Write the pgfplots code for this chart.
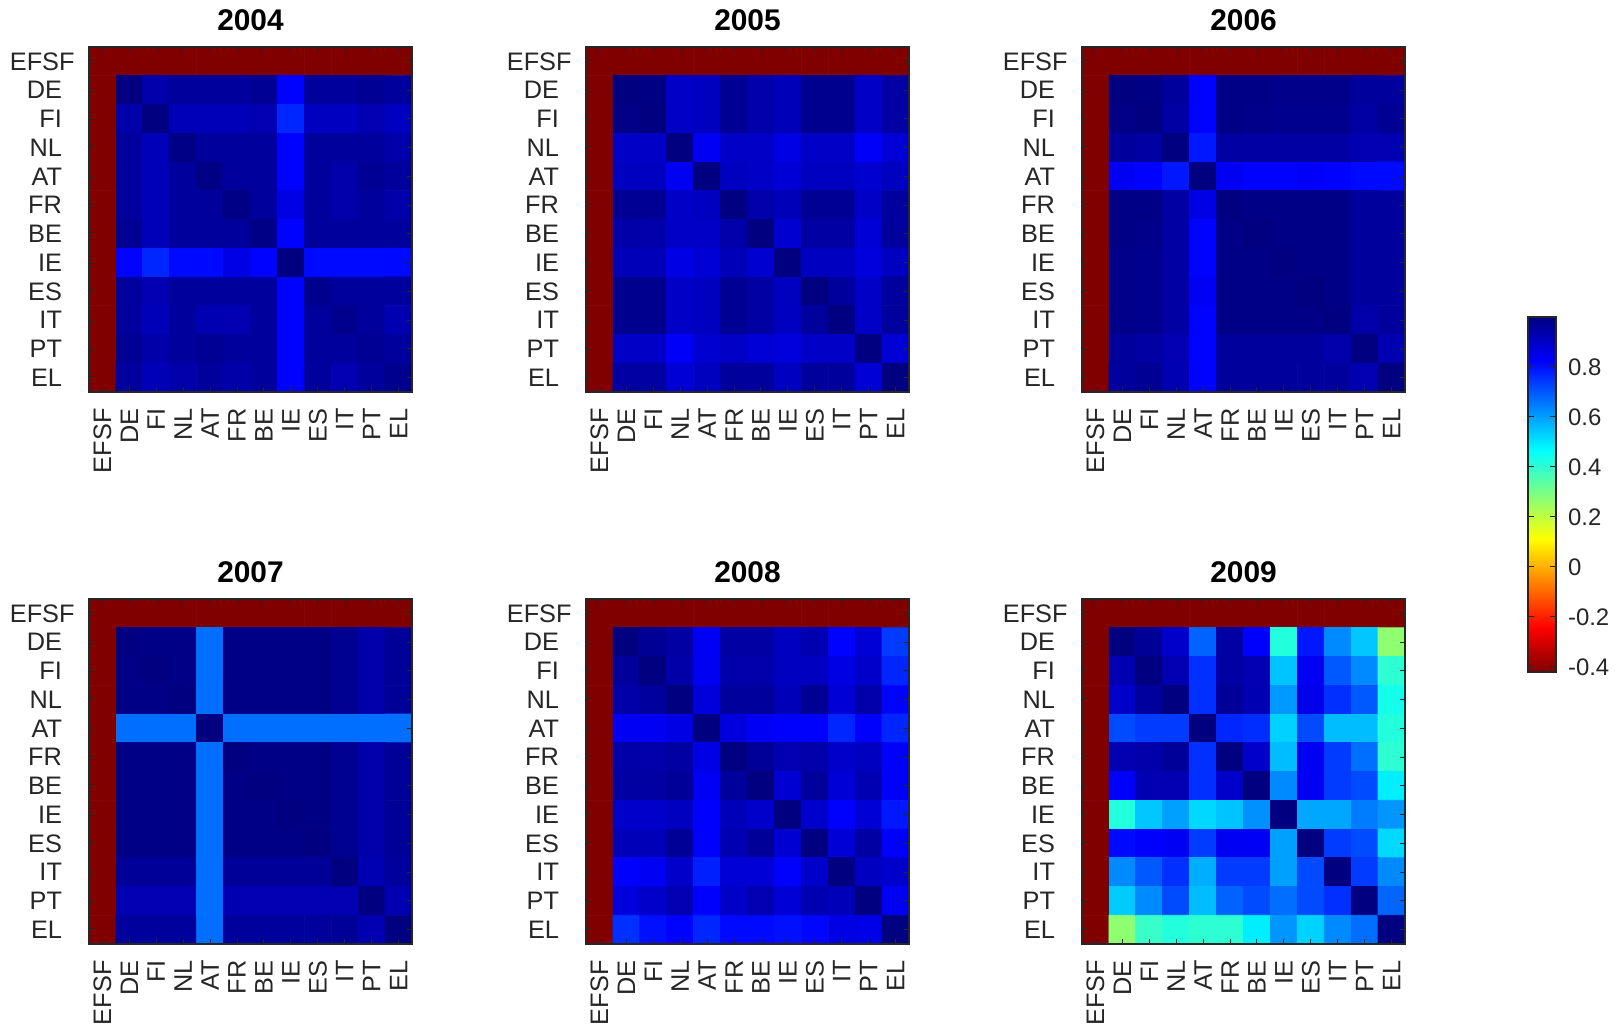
\documentclass[border=0pt]{standalone}
\usepackage{pgfplots}
\usepackage{pgfplotstable}
\pgfplotsset{compat=1.18}
\usepackage{fontspec}
\setmainfont{Liberation Sans}
\definecolor{axgray}{rgb}{0.15,0.15,0.15}
\pgfplotsset{colormap={rjet}{rgb(0cm)=(0.5,0,0) rgb(1cm)=(1,0,0) rgb(3cm)=(1,1,0) rgb(5cm)=(0,1,1) rgb(7cm)=(0,0,1) rgb(8cm)=(0,0,0.5)}}
\newcommand{\pd}{\hspace*{6.3bp}}
\pgfplotsset{heat/.style={
  anchor=south west, scale only axis, width=161.5bp, height=172.5bp,
  xmin=-0.5, xmax=11.5, ymin=-0.5, ymax=11.5, y dir=reverse, enlargelimits=false,
  xtick={0,...,11}, ytick={0,...,11},
  xticklabels={EFSF,DE,FI,NL,AT,FR,BE,IE,ES,IT,PT,EL},
  yticklabels={EFSF,DE\pd,FI\pd,NL\pd,AT\pd,FR\pd,BE\pd,IE\pd,ES\pd,IT\pd,PT\pd,EL\pd},
  tick align=inside, major tick length=2.5bp, tick style={axgray, line width=0.5bp},
  axis line style={axgray, line width=0.6bp},
  axis on top,
  tick label style={font=\fontsize{12.7}{15}\selectfont, text=axgray},
  yticklabel style={xshift=-3.7bp},
  xticklabel style={rotate=90, anchor=east, inner xsep=8bp},
  title style={font=\fontsize{15}{18}\selectfont\bfseries, at={(0.5,1)}, anchor=south, yshift=-1.3bp},
  colormap name=rjet, point meta min=-0.42, point meta max=1,
}}
\newcommand{\panel}[4]{%
\begin{axis}[heat, at={(#1,#2)}, title={#3}]
\addplot[matrix plot*, mesh/cols=12, point meta=explicit]
  table[x index=0, y index=0, x expr={\coordindex-12*floor((\coordindex+0.5)/12)}, y expr={floor((\coordindex+0.5)/12)}, meta index=0] {#4};
\end{axis}}

\pgfplotstableread[row sep=\\]{
v\\
-0.42\\ -0.42\\ -0.42\\ -0.42\\ -0.42\\ -0.42\\ -0.42\\ -0.42\\ -0.42\\ -0.42\\ -0.42\\ -0.42\\
-0.42\\ 1.00\\ 0.94\\ 0.96\\ 0.96\\ 0.96\\ 0.97\\ 0.82\\ 0.96\\ 0.96\\ 0.97\\ 0.96\\
-0.42\\ 0.94\\ 1.00\\ 0.92\\ 0.92\\ 0.92\\ 0.93\\ 0.77\\ 0.91\\ 0.91\\ 0.93\\ 0.91\\
-0.42\\ 0.96\\ 0.92\\ 0.99\\ 0.96\\ 0.96\\ 0.96\\ 0.82\\ 0.96\\ 0.96\\ 0.96\\ 0.94\\
-0.42\\ 0.96\\ 0.92\\ 0.96\\ 0.99\\ 0.96\\ 0.96\\ 0.82\\ 0.96\\ 0.94\\ 0.97\\ 0.96\\
-0.42\\ 0.96\\ 0.92\\ 0.96\\ 0.96\\ 0.99\\ 0.96\\ 0.86\\ 0.96\\ 0.94\\ 0.96\\ 0.94\\
-0.42\\ 0.97\\ 0.92\\ 0.96\\ 0.96\\ 0.96\\ 0.99\\ 0.82\\ 0.96\\ 0.96\\ 0.96\\ 0.96\\
-0.42\\ 0.82\\ 0.77\\ 0.81\\ 0.81\\ 0.86\\ 0.82\\ 1.00\\ 0.81\\ 0.81\\ 0.81\\ 0.81\\
-0.42\\ 0.96\\ 0.93\\ 0.96\\ 0.96\\ 0.96\\ 0.96\\ 0.82\\ 0.98\\ 0.96\\ 0.96\\ 0.96\\
-0.42\\ 0.96\\ 0.92\\ 0.96\\ 0.93\\ 0.93\\ 0.96\\ 0.82\\ 0.96\\ 0.98\\ 0.96\\ 0.93\\
-0.42\\ 0.97\\ 0.94\\ 0.96\\ 0.97\\ 0.96\\ 0.96\\ 0.82\\ 0.96\\ 0.96\\ 0.97\\ 0.96\\
-0.42\\ 0.96\\ 0.92\\ 0.94\\ 0.96\\ 0.94\\ 0.96\\ 0.82\\ 0.96\\ 0.93\\ 0.96\\ 0.98\\
}\tA

\pgfplotstableread[row sep=\\]{
v\\
-0.42\\ -0.42\\ -0.42\\ -0.42\\ -0.42\\ -0.42\\ -0.42\\ -0.42\\ -0.42\\ -0.42\\ -0.42\\ -0.42\\
-0.42\\ 1.00\\ 0.99\\ 0.90\\ 0.91\\ 0.97\\ 0.94\\ 0.92\\ 0.98\\ 0.98\\ 0.90\\ 0.95\\
-0.42\\ 0.99\\ 1.00\\ 0.90\\ 0.91\\ 0.97\\ 0.94\\ 0.92\\ 0.98\\ 0.98\\ 0.90\\ 0.95\\
-0.42\\ 0.90\\ 0.90\\ 1.00\\ 0.84\\ 0.90\\ 0.90\\ 0.86\\ 0.90\\ 0.90\\ 0.83\\ 0.88\\
-0.42\\ 0.91\\ 0.91\\ 0.84\\ 1.00\\ 0.91\\ 0.90\\ 0.88\\ 0.91\\ 0.91\\ 0.89\\ 0.91\\
-0.42\\ 0.97\\ 0.97\\ 0.90\\ 0.91\\ 1.00\\ 0.94\\ 0.92\\ 0.97\\ 0.97\\ 0.90\\ 0.96\\
-0.42\\ 0.94\\ 0.94\\ 0.90\\ 0.90\\ 0.94\\ 1.00\\ 0.89\\ 0.95\\ 0.95\\ 0.88\\ 0.96\\
-0.42\\ 0.92\\ 0.92\\ 0.86\\ 0.88\\ 0.92\\ 0.89\\ 1.00\\ 0.91\\ 0.91\\ 0.87\\ 0.91\\
-0.42\\ 0.98\\ 0.98\\ 0.90\\ 0.91\\ 0.97\\ 0.95\\ 0.91\\ 1.00\\ 0.96\\ 0.90\\ 0.96\\
-0.42\\ 0.98\\ 0.98\\ 0.90\\ 0.91\\ 0.97\\ 0.95\\ 0.91\\ 0.96\\ 1.00\\ 0.90\\ 0.96\\
-0.42\\ 0.90\\ 0.90\\ 0.83\\ 0.89\\ 0.90\\ 0.88\\ 0.87\\ 0.90\\ 0.90\\ 1.00\\ 0.88\\
-0.42\\ 0.95\\ 0.95\\ 0.88\\ 0.91\\ 0.96\\ 0.96\\ 0.91\\ 0.96\\ 0.96\\ 0.88\\ 1.00\\
}\tB

\pgfplotstableread[row sep=\\]{
v\\
-0.42\\ -0.42\\ -0.42\\ -0.42\\ -0.42\\ -0.42\\ -0.42\\ -0.42\\ -0.42\\ -0.42\\ -0.42\\ -0.42\\
-0.42\\ 1.00\\ 0.99\\ 0.96\\ 0.82\\ 0.99\\ 0.99\\ 0.985\\ 0.985\\ 0.985\\ 0.96\\ 0.96\\
-0.42\\ 0.99\\ 1.00\\ 0.95\\ 0.82\\ 0.99\\ 0.985\\ 0.98\\ 0.98\\ 0.98\\ 0.95\\ 0.97\\
-0.42\\ 0.96\\ 0.95\\ 1.00\\ 0.79\\ 0.95\\ 0.95\\ 0.95\\ 0.95\\ 0.95\\ 0.93\\ 0.93\\
-0.42\\ 0.84\\ 0.82\\ 0.79\\ 1.00\\ 0.84\\ 0.82\\ 0.82\\ 0.83\\ 0.82\\ 0.81\\ 0.81\\
-0.42\\ 0.99\\ 0.99\\ 0.95\\ 0.86\\ 1.00\\ 0.99\\ 0.99\\ 0.99\\ 0.99\\ 0.96\\ 0.96\\
-0.42\\ 0.99\\ 0.985\\ 0.95\\ 0.82\\ 0.99\\ 1.00\\ 0.99\\ 0.99\\ 0.99\\ 0.96\\ 0.96\\
-0.42\\ 0.985\\ 0.98\\ 0.95\\ 0.82\\ 0.99\\ 0.99\\ 1.00\\ 0.99\\ 0.99\\ 0.96\\ 0.96\\
-0.42\\ 0.985\\ 0.98\\ 0.95\\ 0.84\\ 0.99\\ 0.99\\ 0.99\\ 1.00\\ 0.99\\ 0.96\\ 0.96\\
-0.42\\ 0.985\\ 0.98\\ 0.95\\ 0.82\\ 0.99\\ 0.99\\ 0.99\\ 0.99\\ 1.00\\ 0.94\\ 0.96\\
-0.42\\ 0.96\\ 0.95\\ 0.93\\ 0.82\\ 0.96\\ 0.96\\ 0.96\\ 0.96\\ 0.94\\ 1.00\\ 0.93\\
-0.42\\ 0.96\\ 0.97\\ 0.93\\ 0.82\\ 0.96\\ 0.96\\ 0.96\\ 0.96\\ 0.96\\ 0.93\\ 1.00\\
}\tC

\pgfplotstableread[row sep=\\]{
v\\
-0.42\\ -0.42\\ -0.42\\ -0.42\\ -0.42\\ -0.42\\ -0.42\\ -0.42\\ -0.42\\ -0.42\\ -0.42\\ -0.42\\
-0.42\\ 1.00\\ 0.99\\ 0.99\\ 0.67\\ 0.99\\ 0.99\\ 0.99\\ 0.99\\ 0.975\\ 0.94\\ 0.965\\
-0.42\\ 0.99\\ 1.00\\ 0.99\\ 0.67\\ 0.99\\ 0.99\\ 0.99\\ 0.99\\ 0.975\\ 0.94\\ 0.965\\
-0.42\\ 0.99\\ 0.99\\ 1.00\\ 0.67\\ 0.99\\ 0.99\\ 0.99\\ 0.99\\ 0.975\\ 0.94\\ 0.965\\
-0.42\\ 0.67\\ 0.67\\ 0.67\\ 1.00\\ 0.67\\ 0.67\\ 0.67\\ 0.67\\ 0.67\\ 0.67\\ 0.67\\
-0.42\\ 0.99\\ 0.99\\ 0.99\\ 0.67\\ 1.00\\ 0.99\\ 0.99\\ 0.99\\ 0.975\\ 0.94\\ 0.965\\
-0.42\\ 0.99\\ 0.99\\ 0.99\\ 0.67\\ 0.99\\ 1.00\\ 0.99\\ 0.99\\ 0.975\\ 0.94\\ 0.965\\
-0.42\\ 0.99\\ 0.99\\ 0.99\\ 0.67\\ 0.99\\ 0.99\\ 1.00\\ 0.99\\ 0.975\\ 0.94\\ 0.965\\
-0.42\\ 0.99\\ 0.99\\ 0.99\\ 0.67\\ 0.99\\ 0.99\\ 0.99\\ 1.00\\ 0.975\\ 0.94\\ 0.965\\
-0.42\\ 0.965\\ 0.965\\ 0.965\\ 0.67\\ 0.965\\ 0.965\\ 0.965\\ 0.965\\ 1.00\\ 0.93\\ 0.96\\
-0.42\\ 0.93\\ 0.93\\ 0.93\\ 0.67\\ 0.93\\ 0.93\\ 0.93\\ 0.93\\ 0.93\\ 1.00\\ 0.93\\
-0.42\\ 0.96\\ 0.96\\ 0.96\\ 0.67\\ 0.96\\ 0.96\\ 0.96\\ 0.96\\ 0.965\\ 0.93\\ 1.00\\
}\tD

\pgfplotstableread[row sep=\\]{
v\\
-0.42\\ -0.42\\ -0.42\\ -0.42\\ -0.42\\ -0.42\\ -0.42\\ -0.42\\ -0.42\\ -0.42\\ -0.42\\ -0.42\\
-0.42\\ 1.00\\ 0.97\\ 0.95\\ 0.84\\ 0.95\\ 0.95\\ 0.91\\ 0.93\\ 0.82\\ 0.88\\ 0.74\\
-0.42\\ 0.96\\ 1.00\\ 0.94\\ 0.84\\ 0.94\\ 0.94\\ 0.91\\ 0.91\\ 0.86\\ 0.895\\ 0.77\\
-0.42\\ 0.94\\ 0.96\\ 1.00\\ 0.87\\ 0.96\\ 0.96\\ 0.92\\ 0.97\\ 0.88\\ 0.94\\ 0.82\\
-0.42\\ 0.84\\ 0.84\\ 0.86\\ 1.00\\ 0.87\\ 0.84\\ 0.825\\ 0.825\\ 0.77\\ 0.825\\ 0.77\\
-0.42\\ 0.94\\ 0.94\\ 0.95\\ 0.86\\ 1.00\\ 0.965\\ 0.93\\ 0.94\\ 0.895\\ 0.91\\ 0.825\\
-0.42\\ 0.95\\ 0.95\\ 0.965\\ 0.84\\ 0.96\\ 1.00\\ 0.885\\ 0.96\\ 0.88\\ 0.93\\ 0.825\\
-0.42\\ 0.895\\ 0.895\\ 0.91\\ 0.825\\ 0.92\\ 0.895\\ 1.00\\ 0.895\\ 0.825\\ 0.88\\ 0.79\\
-0.42\\ 0.92\\ 0.92\\ 0.965\\ 0.825\\ 0.93\\ 0.965\\ 0.885\\ 1.00\\ 0.88\\ 0.95\\ 0.825\\
-0.42\\ 0.825\\ 0.84\\ 0.895\\ 0.78\\ 0.88\\ 0.88\\ 0.825\\ 0.895\\ 1.00\\ 0.91\\ 0.895\\
-0.42\\ 0.87\\ 0.895\\ 0.93\\ 0.825\\ 0.90\\ 0.93\\ 0.88\\ 0.93\\ 0.92\\ 1.00\\ 0.84\\
-0.42\\ 0.755\\ 0.80\\ 0.82\\ 0.77\\ 0.81\\ 0.81\\ 0.80\\ 0.815\\ 0.86\\ 0.855\\ 1.00\\
}\tE

\pgfplotstableread[row sep=\\]{
v\\
-0.42\\ -0.42\\ -0.42\\ -0.42\\ -0.42\\ -0.42\\ -0.42\\ -0.42\\ -0.42\\ -0.42\\ -0.42\\ -0.42\\
-0.42\\ 1.00\\ 0.965\\ 0.895\\ 0.685\\ 0.95\\ 0.825\\ 0.42\\ 0.79\\ 0.63\\ 0.545\\ 0.27\\
-0.42\\ 0.93\\ 1.00\\ 0.93\\ 0.755\\ 0.95\\ 0.93\\ 0.55\\ 0.84\\ 0.70\\ 0.63\\ 0.405\\
-0.42\\ 0.895\\ 0.96\\ 1.00\\ 0.755\\ 0.965\\ 0.93\\ 0.61\\ 0.85\\ 0.755\\ 0.70\\ 0.44\\
-0.42\\ 0.72\\ 0.74\\ 0.74\\ 1.00\\ 0.77\\ 0.76\\ 0.53\\ 0.72\\ 0.56\\ 0.56\\ 0.42\\
-0.42\\ 0.93\\ 0.94\\ 0.965\\ 0.755\\ 1.00\\ 0.895\\ 0.56\\ 0.84\\ 0.74\\ 0.67\\ 0.405\\
-0.42\\ 0.825\\ 0.93\\ 0.93\\ 0.755\\ 0.895\\ 1.00\\ 0.63\\ 0.84\\ 0.74\\ 0.72\\ 0.49\\
-0.42\\ 0.42\\ 0.545\\ 0.60\\ 0.52\\ 0.55\\ 0.62\\ 1.00\\ 0.59\\ 0.59\\ 0.65\\ 0.615\\
-0.42\\ 0.81\\ 0.825\\ 0.84\\ 0.74\\ 0.84\\ 0.84\\ 0.60\\ 1.00\\ 0.74\\ 0.72\\ 0.52\\
-0.42\\ 0.63\\ 0.70\\ 0.755\\ 0.58\\ 0.74\\ 0.74\\ 0.60\\ 0.72\\ 1.00\\ 0.74\\ 0.63\\
-0.42\\ 0.54\\ 0.63\\ 0.72\\ 0.56\\ 0.685\\ 0.72\\ 0.67\\ 0.72\\ 0.755\\ 1.00\\ 0.68\\
-0.42\\ 0.27\\ 0.39\\ 0.42\\ 0.405\\ 0.405\\ 0.49\\ 0.615\\ 0.53\\ 0.63\\ 0.67\\ 1.00\\
}\tF

\begin{document}
\begin{tikzpicture}
\path[use as bounding box] (0,0) rectangle (809bp,512bp);
\panel{44.5bp}{316bp}{2004}{\tA}
\panel{293bp}{316bp}{2005}{\tB}
\panel{541bp}{316bp}{2006}{\tC}
\panel{44.5bp}{40bp}{2007}{\tD}
\panel{293bp}{40bp}{2008}{\tE}
\panel{541bp}{40bp}{2009}{\tF}
\begin{axis}[at={(755.5bp,176bp)}, anchor=south west, hide axis, scale only axis,
  width=1bp, height=177.5bp, colormap name=rjet, point meta min=-0.42, point meta max=1,
  colorbar,
  colorbar style={at={(parent axis.south west)}, anchor=south west,
    width=14bp, height=177.5bp, scale only axis,
    ytick={-0.4,-0.2,0,0.2,0.4,0.6,0.8},
    yticklabel style={font=\fontsize{12}{14}\selectfont, text=axgray, xshift=2.5bp,
      /pgf/number format/assume math mode=true, /pgf/number format/fixed},
    tick align=inside, major tick length=3bp, tick style={axgray, line width=0.5bp},
    axis line style={axgray, line width=0.6bp}}]
\addplot[draw=none] coordinates {(0,0)};
\end{axis}
\end{tikzpicture}
\end{document}
